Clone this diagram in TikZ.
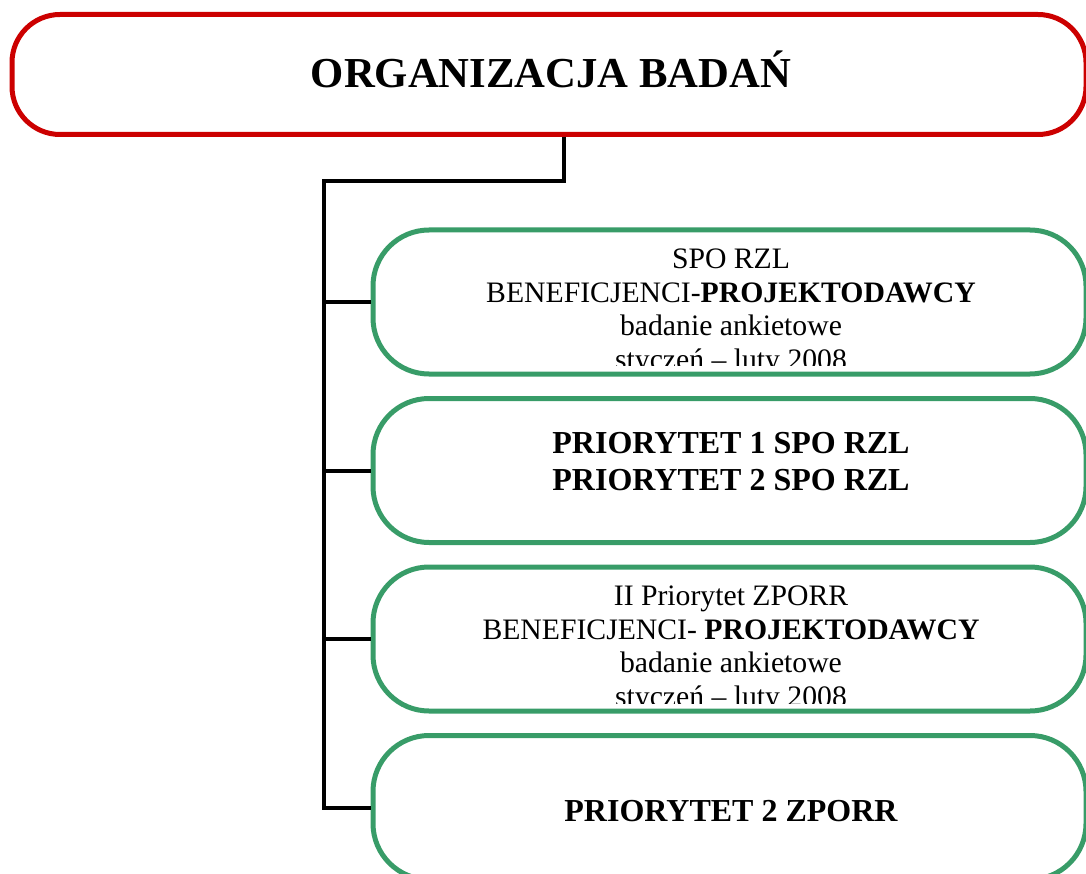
\documentclass[tikz,border=0pt]{standalone}
\usepackage{fontspec}
\setmainfont{Liberation Serif}
\usepackage{tikz}
\definecolor{czerwien}{RGB}{204,0,0}
\definecolor{zielen}{RGB}{56,156,104}

\begin{document}
\begin{tikzpicture}[x=1pt, y=-1pt, every node/.style={align=center, inner sep=0pt},
  naglowek/.style={draw=czerwien, line width=5pt, rounded corners=48pt, minimum width=1074pt, minimum height=120pt},
  etap/.style={draw=zielen, line width=5pt, rounded corners=56pt, minimum width=713pt, minimum height=144pt},
  opis/.style={font=\fontsize{29.7}{33.5}\selectfont},
  gruby/.style={font=\fontsize{32}{37}\selectfont\bfseries},
  linia/.style={draw, line width=4pt}]
\useasboundingbox (0,0) rectangle (1086,874);
\clip (0,0) rectangle (1086,874);
\node[naglowek] (badania) at (549,74.5) {};
\node[anchor=base, font=\fontsize{42.7}{48}\selectfont\bfseries] (tytul) at (551,88) {ORGANIZACJA BADAŃ};
\node[etap] (spo) at (729.5,302) {};
\node[etap] (prio) at (729.5,470.5) {};
\node[etap] (zporr) at (729.5,639) {};
\node[etap] (prio2) at (729.5,807.5) {};
\begin{scope}
  \clip (373,232) rectangle (1086,365);
  \node[opis, anchor=north] (spo-t) at (731,249) {SPO RZL\\ BENEFICJENCI-\textbf{PROJEKTODAWCY}\\ badanie ankietowe\\ styczeń -- luty 2008};
\end{scope}
\node[gruby, anchor=north] (prio-t) at (731,432) {PRIORYTET 1 SPO RZL\\ PRIORYTET 2 SPO RZL};
\begin{scope}
  \clip (373,569) rectangle (1086,703);
  \node[opis, anchor=north] (zporr-t) at (731,586) {II Priorytet ZPORR\\ BENEFICJENCI- \textbf{PROJEKTODAWCY}\\ badanie ankietowe\\ styczeń -- luty 2008};
\end{scope}
\node[gruby, anchor=base] (prio2-t) at (731,821) {PRIORYTET 2 ZPORR};
\coordinate (szyna) at (323.5,181.5);
\draw[linia] ([xshift=14.5pt]badania.south) |- (szyna) |- (prio2.west);
\foreach \b in {spo, prio, zporr}
  \draw[linia] (\b.west -| szyna) -- (\b.west);
\end{tikzpicture}
\end{document}
